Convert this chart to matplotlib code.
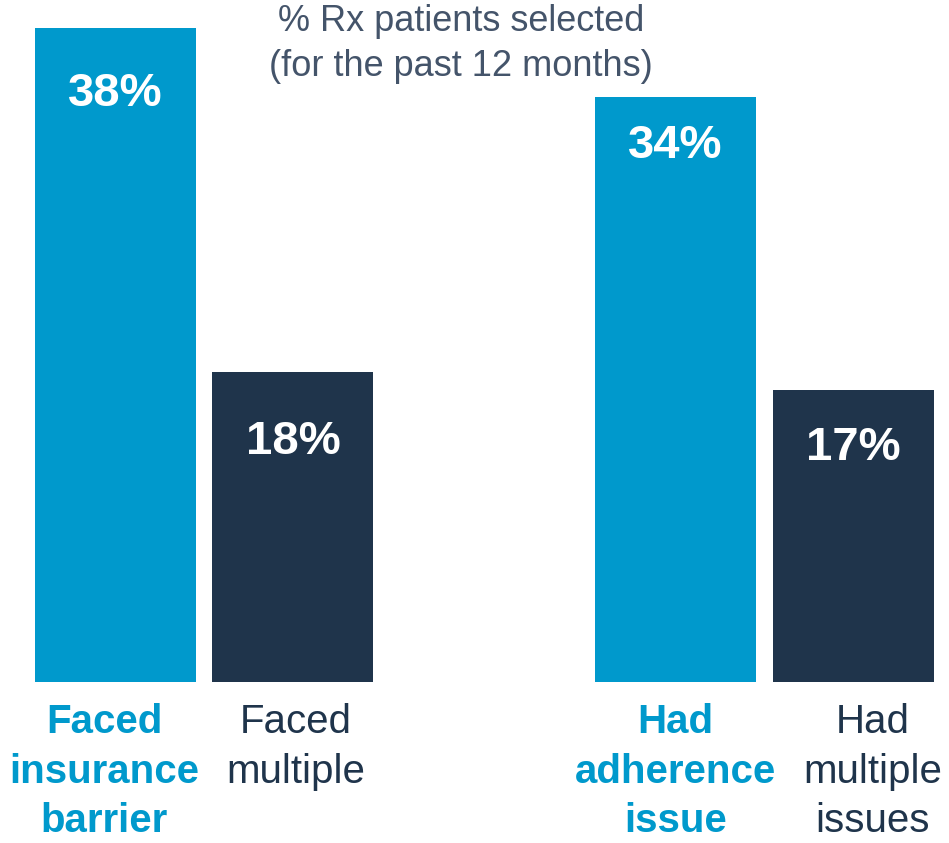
import matplotlib.pyplot as plt

# values
categories = ["Faced\ninsurance\nbarrier", "Faced\nmultiple",
              "Had\nadherence\nissue", "Had\nmultiple\nissues"]
values = [38, 18, 34, 17]
value_labels = ["38%", "18%", "34%", "17%"]
positions = [0.0, 1.102, 3.478, 4.581]

light_blue = "#0099CC"
navy = "#1F344B"
colors = [light_blue, navy, light_blue, navy]
label_colors = [light_blue, navy, light_blue, navy]
label_weights = ["bold", "normal", "bold", "normal"]
label_shift = [-0.07, 0.02, 0.0, 0.12]      # small horizontal tweaks (bar widths)
value_drop = [66, 70, 49, 58]               # px from bar top to label center

plt.rcParams["font.family"] = ["Liberation Sans", "DejaVu Sans"]

fig = plt.figure(figsize=(9.49, 8.43), dpi=100)
ax = fig.add_axes([0, 161 / 843, 1, 682 / 843])
px_per_unit = 17.2
ax.set_xlim(-115.5 / 161, (949 - 115.5) / 161)
ax.set_ylim(0, 682 / px_per_unit)
ax.axis("off")

ax.bar(positions, values, width=1.0, color=colors)

for x, v, lab, d in zip(positions, values, value_labels, value_drop):
    ax.text(x, v - d / px_per_unit, lab, ha="center", va="center",
            color="white", fontsize=34, fontweight="bold")

for x, cat, c, w, s in zip(positions, categories, label_colors, label_weights, label_shift):
    ax.text(x + s, -21 / px_per_unit, cat, ha="center", va="top", color=c,
            fontsize=29, fontweight=w, linespacing=1.39, clip_on=False)

fig.text(461 / 949, 1 - 4 / 843, "% Rx patients selected\n(for the past 12 months)",
         ha="center", va="top", fontsize=26, color="#44546A", linespacing=1.36)

fig.savefig("out.png", dpi=100)
